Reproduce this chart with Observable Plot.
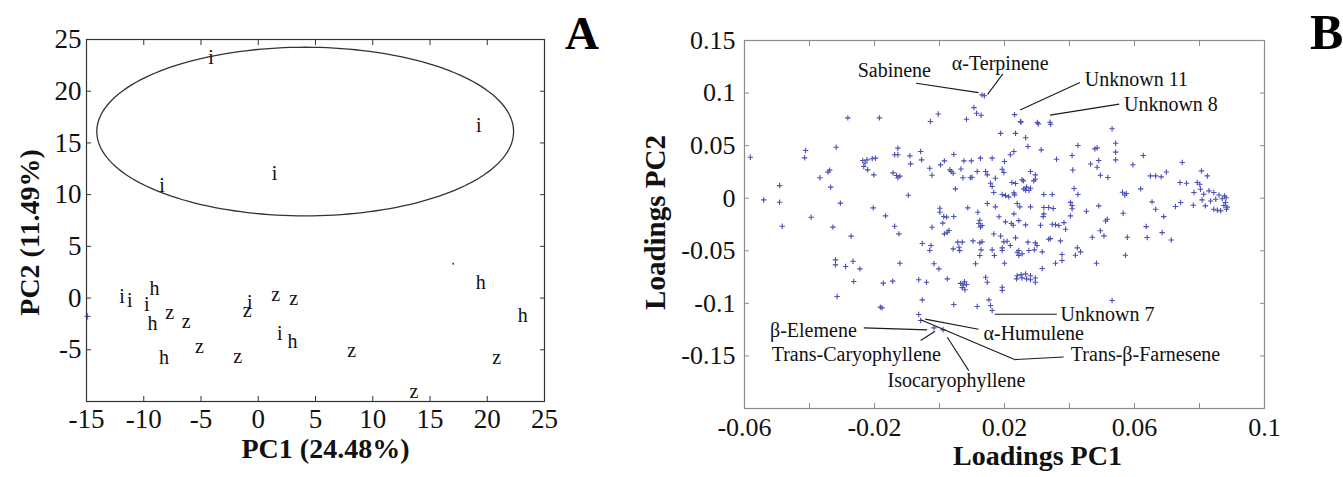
<!DOCTYPE html>
<html>
<head>
<meta charset="utf-8">
<script src="https://cdn.jsdelivr.net/npm/d3@7"></script>
<script src="https://cdn.jsdelivr.net/npm/@observablehq/plot@0.6"></script>
<style>
  html, body { margin: 0; padding: 0; background: #fff; }
  #wrap { position: relative; width: 1343px; height: 477px; overflow: hidden; background: #fff; }
  #wrap svg { position: absolute; top: 0; overflow: visible; }
  .panel-letter { position: absolute; font-family: "Liberation Serif", "Times New Roman", serif; font-weight: bold; line-height: 1; color: #000; }
</style>
</head>
<body>
<div id="wrap"></div>
<script>
// ---------- Panel A: PCA scores ----------
const scoreGroup = ["i","i","i","i","h","h","z","z","z","z","z","h","i","h","z","z","i","z","h","i","h","z","z","i","i"];
const scorePC1 = [-4.13, 19.27, 1.43, -8.40, 19.43, 23.10, 20.83, 13.60, 8.17, -1.80, -5.13, -8.23, 1.87, 3.00, 1.53, 3.10, -0.73, -0.97, -9.07, -9.73, -9.23, -7.73, -6.30, -11.90, -11.23];
const scorePC2 = [23.26, 16.71, 12.03, 10.90, 1.45, -1.68, -5.71, -9.00, -5.06, -5.65, -4.68, -5.77, -3.45, -4.16, 0.35, -0.06, -0.39, -1.19, 0.90, -0.61, -2.48, -1.42, -2.32, 0.10, -0.23];
const strayDot = [17.03, 3.32];
const bluePlus = [-14.9, -1.77];
const ellipseCenter = [4.1, 16.1];
const ellipseRadii = [18.2, 8.15];
const xTicksA = [-15, -10, -5, 0, 5, 10, 15, 20, 25];
const yTicksA = [-10, -5, 0, 5, 10, 15, 20, 25];
const yTickLabelsA = [-5, 0, 5, 10, 15, 20, 25];
const titleA = { x: "PC1 (24.48%)", y: "PC2 (11.49%)" };

// ---------- Panel B: loadings ----------
const loadings = [
[-0.0582,0.0390],[-0.0541,-0.0016],[-0.0492,0.0120],[-0.0492,-0.0038],[-0.0484,-0.0266],
[-0.0412,0.0454],[-0.0415,0.0384],[-0.0395,-0.0181],[-0.0368,0.0194],[-0.0343,0.0248],
[-0.0338,0.0267],[-0.0335,0.0105],[-0.0318,0.0485],[-0.0328,-0.0275],[-0.0305,-0.0047],
[-0.0282,0.0764],[-0.0272,-0.0361],[-0.0236,0.0359],[-0.0223,0.0365],[-0.0207,0.0375],
[-0.0197,0.0381],[-0.0233,0.0302],[-0.0221,0.0270],[-0.0202,0.0222],[-0.0229,0.0335],
[-0.0204,-0.0092],[-0.0185,0.0764],[-0.0166,-0.0168],[-0.0138,0.0413],[-0.0128,0.0413],
[-0.0128,0.0476],[-0.0143,0.0241],[-0.0132,0.0216],[-0.0128,0.0194],[-0.0122,0.0210],
[-0.0138,-0.0266],[-0.0125,-0.0339],[-0.0096,0.0028],[-0.0091,0.0403],[-0.0089,0.0327],
[-0.0058,0.0444],[-0.0055,0.0365],[-0.0053,-0.0431],[-0.0028,0.0729],[-0.0030,0.0285],
[-0.0023,0.0219],[-0.0004,0.0801],[0.0001,-0.0095],[0.0003,0.0317],[0.0015,0.0355],
[0.0013,-0.0174],[0.0022,-0.0180],[0.0010,-0.0237],[0.0044,0.0416],[0.0036,0.0254],
[0.0042,0.0238],[0.0032,0.0270],[0.0049,0.0089],[0.0066,0.0278],[0.0072,0.0194],
[0.0075,0.0355],[0.0083,0.0751],[0.0095,0.0194],[0.0100,0.0200],[0.0098,0.0355],
[0.0106,0.0862],[0.0114,0.0808],[0.0128,0.0789],[0.0131,0.0983],[0.0138,0.0975],[0.0116,0.0254],
[0.0126,0.0381],[0.0142,0.0254],[0.0147,0.0222],[0.0157,0.0143],[0.0162,0.0111],
[0.0167,0.0054],[0.0162,0.0381],[0.0172,0.0190],[0.0188,0.0617],[0.0193,0.0035],
[0.0203,0.0025],[0.0213,0.0013],[0.0200,0.0349],[0.0218,0.0413],[0.0229,0.0444],
[0.0231,0.0795],[0.0234,0.0617],[0.0249,0.0730],[0.0254,0.0175],[0.0259,0.0089],
[0.0268,0.0105],[0.0275,0.0073],[0.0265,0.0575],[0.0272,0.0492],[0.0280,0.0254],
[0.0295,0.0222],[0.0301,0.0720],
[0.0001,-0.0133],[0.0044,-0.0174],[-0.0023,-0.0276],[-0.0026,-0.0450],[0.0015,-0.0339],
[0.0024,-0.0323],[0.0029,-0.0307],[0.0056,-0.0418],[0.0062,-0.0498],[0.0087,-0.0092],
[0.0103,-0.0406],[0.0118,-0.0133],[0.0121,-0.0241],[0.0126,-0.0273],[0.0124,-0.0209],
[0.0131,-0.0260],[0.0124,-0.0425],[0.0131,-0.0415],[0.0147,-0.0050],[0.0172,-0.0082],
[0.0183,-0.0177],[0.0167,-0.0340],[0.0188,-0.0360],[0.0198,-0.0415],[0.0203,-0.0225],
[0.0218,-0.0450],[0.0239,-0.0050],[0.0247,-0.0082],[0.0239,-0.0514],[0.0244,-0.0545],
[0.0265,-0.0254],[0.0272,-0.0418],[0.0280,-0.0082],[0.0295,-0.0425],
[0.0251,0.0723],[0.0304,0.0707],[0.0340,0.0723],[0.0342,0.0704],[0.0313,0.0460],
[0.0360,0.0371],[0.0408,0.0406],[0.0426,0.0501],[0.0410,0.0269],[0.0465,0.0326],
[0.0478,0.0469],[0.0485,0.0479],[0.0490,0.0358],[0.0485,0.0295],[0.0495,0.0219],
[0.0518,0.0197],[0.0531,0.0660],[0.0542,0.0523],[0.0542,0.0438],[0.0542,0.0365],
[0.0595,0.0318],[0.0627,0.0406],[0.0649,0.0212],[0.0665,0.0212],[0.0682,0.0203],
[0.0698,0.0250],[0.0747,0.0339],[0.0806,0.0260],[0.0824,0.0212],[0.0740,0.0149],
[0.0760,0.0143],[0.0793,0.0149],[0.0801,0.0133],[0.0783,0.0054],[0.0803,0.0085],
[0.0813,0.0038],[0.0829,0.0070],[0.0844,0.0054],[0.0877,0.0022],[0.0880,-0.0041],
[0.0883,-0.0105],[0.0865,-0.0120],[0.0844,-0.0105],[0.0818,-0.0073],[0.0808,-0.0016],
[0.0834,-0.0026],[0.0870,-0.0005],[0.0875,-0.0070],[0.0855,-0.0115],[0.0882,0.0005],
[0.0885,-0.0085],[0.0860,0.0030],[0.0850,-0.0010],[0.0742,-0.0041],[0.0781,-0.0067],
[0.0726,-0.0079],[0.0654,-0.0035],[0.0665,-0.0105],[0.0690,-0.0175],[0.0636,-0.0270],
[0.0639,-0.0374],[0.0685,-0.0327],[0.0713,-0.0397],[0.0619,0.0089],[0.0565,-0.0143],
[0.0572,-0.0542],[0.0578,-0.0371],[0.0563,0.0057],[0.0575,0.0045],[0.0570,0.0030],
[0.0490,-0.0073],[0.0495,-0.0310],[0.0506,-0.0358],[0.0511,-0.0216],[0.0516,-0.0200],
[0.0483,-0.0618],[0.0470,-0.0371],[0.0452,-0.0124],[0.0426,0.0035],[0.0424,-0.0472],
[0.0403,-0.0040],[0.0408,-0.0070],[0.0408,-0.0100],[0.0403,-0.0168],[0.0383,-0.0232],
[0.0388,-0.0295],[0.0372,-0.0406],[0.0347,-0.0247],[0.0357,-0.0253],[0.0367,-0.0260],
[0.0357,-0.0618],[0.0377,-0.0593],[0.0377,-0.0536],[0.0418,-0.0542],[0.0434,-0.0510],
[0.0336,-0.0390],[0.0341,-0.0384],[0.0316,-0.0510],[0.0316,-0.0669],[0.0319,-0.0175],
[0.0311,-0.0257],[0.0321,0.0035],[0.0347,0.0035],[0.0300,-0.0450],[0.0275,-0.0497],
[0.0239,-0.0737],[0.0251,-0.0727],[0.0265,-0.0720],[0.0280,-0.0737],[0.0295,-0.0759],
[0.0193,-0.0847],[0.0234,-0.0377],[0.0208,-0.0409],[0.0193,-0.0472],[0.0200,-0.0618],
[0.0221,-0.0241],[0.0227,-0.0257],[0.0229,-0.0149],[0.0244,-0.0213],[0.0265,0.0075],
[0.0280,0.0095],[0.0229,0.0051],[0.0231,0.0032],[0.0290,0.0165],[0.0295,0.0181],
[0.0258,0.0165],[0.0223,0.0149],[0.0234,0.0140],[0.0198,0.0244],[0.0193,0.0276],
[0.0321,-0.0149],[0.0321,-0.0089],[0.0336,-0.0089],[0.0350,-0.0098],[0.0414,0.0092],
[0.0531,-0.0973],
[-0.0320,-0.0586],[-0.0320,-0.0634],[-0.0289,-0.0650],[-0.0266,-0.0599],[-0.0245,-0.0672],
[-0.0264,-0.0792],[-0.0315,-0.0935],[-0.0182,-0.1036],[-0.0177,-0.1043],[-0.0173,-0.0808],
[-0.0144,-0.0789],[-0.0122,-0.0618],[-0.0064,-0.0776],[-0.0040,-0.0799],[-0.0053,-0.0967],
[-0.0064,-0.1106],[-0.0058,-0.1163],[-0.0017,-0.0624],[-0.0002,-0.0672],[-0.0030,-0.0497],
[-0.0017,-0.1233],[0.0011,-0.1252],[0.0024,-0.0767],[0.0044,-0.1011],[0.0065,-0.0810],
[0.0073,-0.0825],[0.0077,-0.0795],[0.0070,-0.0850],[0.0083,-0.0820],[0.0078,-0.0870],
[0.0042,-0.0482],[0.0060,-0.0466],[0.0070,-0.0418],[0.0111,-0.0624],[0.0116,-0.1030],
[0.0124,-0.0545],[0.0128,-0.0491],[0.0142,-0.0751],[0.0147,-0.0799],[0.0152,-0.0967],
[0.0157,-0.1021],[0.0162,-0.1068],[0.0162,-0.0491],[0.0169,-0.0545],[0.0193,-0.0497],
[0.0193,-0.0878],[0.0237,-0.0767],[0.0254,-0.0758],[0.0268,-0.0767],[0.0280,-0.0776],
[0.0295,-0.0799],[0.0244,-0.0497],[0.0254,-0.0529],[0.0292,-0.0491]
];
const labelNames = ["Sabinene", "α-Terpinene", "Unknown 11", "Unknown 8", "Unknown 7", "α-Humulene", "β-Elemene", "Trans-Caryophyllene", "Isocaryophyllene", "Trans-β-Farnesene"];
const labelPC1 = [-0.0139, 0.0187, 0.0606, 0.0712, 0.0517, 0.0290, -0.0388, -0.0256, 0.0052, 0.0634];
const labelPC2 = [0.1214, 0.1280, 0.1125, 0.0892, -0.1103, -0.1290, -0.1255, -0.1485, -0.1739, -0.1490];
const leaderFrom = [[-0.0072, 0.1093], [0.0195, 0.1182], [0.0432, 0.1100], [0.0553, 0.0895], [0.0361, -0.1103], [0.0120, -0.1246], [-0.0233, -0.1233], [-0.0058, -0.1353], [0.0090, -0.1640], [-0.0058, -0.1157], [0.0231, -0.1535]];
const leaderTo   = [[0.0120, 0.1004], [0.0148, 0.0988], [0.0248, 0.0838], [0.0340, 0.0790], [0.0170, -0.1103], [-0.0044, -0.1150], [-0.0038, -0.1252], [-0.0014, -0.1265], [0.0024, -0.1322], [0.0231, -0.1535], [0.0382, -0.1510]];
const xTicksB = [-0.06, -0.04, -0.02, 0, 0.02, 0.04, 0.06, 0.08, 0.1];
const xTickLabelsB = [-0.06, -0.02, 0.02, 0.06, 0.1];
const yTicksB = [-0.2, -0.15, -0.1, -0.05, 0, 0.05, 0.1, 0.15];
const yTickLabelsB = [-0.15, -0.1, -0.05, 0, 0.05, 0.1, 0.15];
const titleB = { x: "Loadings PC1", y: "Loadings PC2" };
const panelLetters = ["A", "B"];

const serif = "'Liberation Serif', 'Times New Roman', serif";
const fmt = d => String(d);
const blank = () => "";

function frameAxes(xt, xl, yt, yl, col, pad, fs) {
  return [
    Plot.axisX({anchor: "bottom", ticks: xt, tickSize: -5, tickFormat: blank, stroke: col}),
    Plot.axisX({anchor: "top", ticks: xt, tickSize: -5, tickFormat: blank, stroke: col}),
    Plot.axisY({anchor: "left", ticks: yt, tickSize: -5, tickFormat: blank, stroke: col}),
    Plot.axisY({anchor: "right", ticks: yt, tickSize: -5, tickFormat: blank, stroke: col}),
    Plot.axisX({anchor: "bottom", ticks: xl, tickSize: 0, tickPadding: pad[0], tickFormat: fmt, fontSize: fs, fill: "#111"}),
    Plot.axisY({anchor: "left", ticks: yl, tickSize: 0, tickPadding: pad[1], tickFormat: fmt, fontSize: fs, fill: "#111"})
  ];
}

// Panel A
const ellipse = d3.range(0, 361, 2).map(a => ({
  x: ellipseCenter[0] + ellipseRadii[0] * Math.cos(a * Math.PI / 180),
  y: ellipseCenter[1] + ellipseRadii[1] * Math.sin(a * Math.PI / 180)
}));
const idxA = d3.range(scoreGroup.length);

const chartA = Plot.plot({
  width: 620, height: 477,
  marginLeft: 86, marginRight: 76, marginTop: 39, marginBottom: 76,
  x: {domain: [-15, 25], label: null},
  y: {domain: [-10, 25], label: null},
  style: {fontFamily: serif, background: "transparent", color: "#222"},
  marks: [
    Plot.line(ellipse, {x: "x", y: "y", stroke: "#333", strokeWidth: 1.3}),
    Plot.text(idxA, {x: i => scorePC1[i], y: i => scorePC2[i], text: i => scoreGroup[i], fontSize: 20, fill: "#111"}),
    Plot.dot([strayDot], {x: d => d[0], y: d => d[1], r: 0.9, fill: "#333", stroke: null}),
    Plot.dot([bluePlus], {x: d => d[0], y: d => d[1], symbol: "plus", r: 2.2, stroke: "#4b50b5", strokeWidth: 1}),
    Plot.frame({stroke: "#333", strokeWidth: 1.2}),
    ...frameAxes(xTicksA, xTicksA, yTicksA, yTickLabelsA, "#333", [7, 5], 27),
    Plot.text([titleA.x], {frameAnchor: "bottom", lineAnchor: "middle", textAnchor: "middle", dy: 48, dx: 10, fontSize: 28, fontWeight: "bold", fill: "#111"}),
    Plot.text([titleA.y], {frameAnchor: "left", lineAnchor: "middle", textAnchor: "middle", rotate: -90, dx: -56, dy: 12, fontSize: 28, fontWeight: "bold", fill: "#111"})
  ]
});
chartA.style.left = "0px";

// Panel B
const idxL = d3.range(labelNames.length);
const idxK = d3.range(leaderFrom.length);
const chartB = Plot.plot({
  width: 723, height: 477,
  marginLeft: 124, marginRight: 79, marginTop: 40, marginBottom: 69,
  x: {domain: [-0.06, 0.1], label: null},
  y: {domain: [-0.2, 0.15], label: null},
  style: {fontFamily: serif, background: "transparent", color: "#222"},
  marks: [
    Plot.dot(loadings, {x: d => d[0], y: d => d[1], symbol: "plus", r: 1.9, stroke: "#4b50b5", strokeWidth: 1.1}),
    Plot.link(idxK, {x1: i => leaderFrom[i][0], y1: i => leaderFrom[i][1], x2: i => leaderTo[i][0], y2: i => leaderTo[i][1], stroke: "#1a1a1a", strokeWidth: 1.1}),
    Plot.text(idxL, {x: i => labelPC1[i], y: i => labelPC2[i], text: i => labelNames[i], fontSize: 20, fill: "#111"}),
    Plot.frame({stroke: "#8c8c8c", strokeWidth: 1.2}),
    ...frameAxes(xTicksB, xTickLabelsB, yTicksB, yTickLabelsB, "#8c8c8c", [9, 9], 26),
    Plot.text([titleB.x], {frameAnchor: "bottom", lineAnchor: "middle", textAnchor: "middle", dy: 48, dx: 33, fontSize: 28, fontWeight: "bold", fill: "#111"}),
    Plot.text([titleB.y], {frameAnchor: "left", lineAnchor: "middle", textAnchor: "middle", rotate: -90, dx: -89, dy: -2, fontSize: 29, fontWeight: "bold", fill: "#111"})
  ]
});
chartB.style.left = "620px";

const wrap = document.getElementById("wrap");
wrap.appendChild(chartA);
wrap.appendChild(chartB);

const letterPos = [{left: 565, top: 9.6, size: 47}, {left: 1310, top: 7, size: 50}];
panelLetters.forEach((t, i) => {
  const d = document.createElement("div");
  d.className = "panel-letter";
  d.textContent = t;
  d.style.left = letterPos[i].left + "px";
  d.style.top = letterPos[i].top + "px";
  d.style.fontSize = letterPos[i].size + "px";
  wrap.appendChild(d);
});
</script>
</body>
</html>
